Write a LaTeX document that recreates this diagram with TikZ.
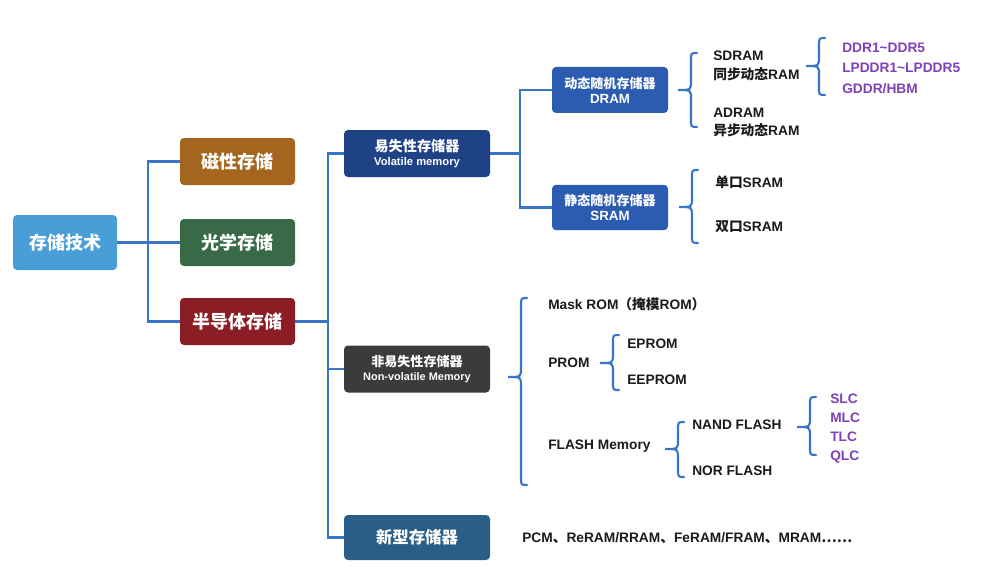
\documentclass[tikz,border=0pt]{standalone}
\usepackage{fontspec}
\setmainfont{Liberation Sans}
\newfontfamily\cjk{Noto Sans CJK SC}
\newcommand{\zh}[1]{{\cjk #1}}
\definecolor{cRoot}{HTML}{4A9ED8}
\definecolor{cMag}{HTML}{A4661F}
\definecolor{cOpt}{HTML}{386A48}
\definecolor{cSemi}{HTML}{8A1E24}
\definecolor{cVol}{HTML}{1F4286}
\definecolor{cNv}{HTML}{3B3B3B}
\definecolor{cNew}{HTML}{2B5E86}
\definecolor{cRam}{HTML}{2C5CB2}
\definecolor{cLine}{HTML}{3A74C9}
\definecolor{cPur}{HTML}{7E3FB8}
\definecolor{cTxt}{HTML}{1A1A1A}
\newcommand{\mybrace}[4]{%
  \draw[bracestyle] ({#1+19},#2) .. controls ({#1+13},#2) .. ({#1+13},{#2+8})
    -- ({#1+13},{#3-9}) .. controls ({#1+13},#3) .. (#1,#3)
    .. controls ({#1+13},#3) .. ({#1+13},{#3+9})
    -- ({#1+13},{#4-8}) .. controls ({#1+13},#4) .. ({#1+19},#4);}
\begin{document}
\begin{tikzpicture}[x=0.75pt,y=-0.75pt,
  box/.style={rounded corners=3pt, text=white, align=center, inner sep=0pt, font=\bfseries},
  conn/.style={draw=cLine, line width=1.6pt},
  bracestyle/.style={draw=cLine, line width=1.6pt, line cap=round},
  leaf/.style={anchor=west, inner sep=0pt, text=cTxt, font=\bfseries\fontsize{10.3}{12}\selectfont},
  leafp/.style={leaf, text=cPur}]
\useasboundingbox (0,0) rectangle (1000,585);
% level 0/1
\node[box, fill=cRoot, minimum width=78pt, minimum height=41.25pt, font=\bfseries\fontsize{13.5}{15}\selectfont] (root) at (65,242.5) {\zh{存储技术}};
\node[box, fill=cMag, minimum width=86.25pt, minimum height=35.25pt, font=\bfseries\fontsize{13.5}{15}\selectfont] (mag) at (237.5,161.5) {\zh{磁性存储}};
\node[box, fill=cOpt, minimum width=86.25pt, minimum height=35.25pt, font=\bfseries\fontsize{13.5}{15}\selectfont] (opt) at (237.5,242.5) {\zh{光学存储}};
\node[box, fill=cSemi, minimum width=86.25pt, minimum height=35.25pt, font=\bfseries\fontsize{13.5}{15}\selectfont] (semi) at (237.5,321.5) {\zh{半导体存储}};
% level 2
\node[box, fill=cVol, minimum width=109.5pt, minimum height=35.25pt] (vol) at (417,153.5)
  {{\fontsize{10.6}{11.5}\selectfont\zh{易失性存储器}}\\[-1pt]{\fontsize{8.4}{10}\selectfont Volatile memory}};
\node[box, fill=cNv, minimum width=109.5pt, minimum height=35.25pt] (nv) at (417,369)
  {{\fontsize{9.8}{11}\selectfont\zh{非易失性存储器}}\\[-1pt]{\fontsize{8.2}{10}\selectfont Non-volatile Memory}};
\node[box, fill=cNew, minimum width=109.5pt, minimum height=33.75pt, font=\bfseries\fontsize{12.3}{14}\selectfont] (new) at (417,537.5) {\zh{新型存储器}};
% level 3
\node[box, fill=cRam, minimum width=87pt, minimum height=34.5pt] (dram) at (610,90)
  {{\fontsize{9.8}{11}\selectfont\zh{动态随机存储器}}\\[-1pt]{\fontsize{10}{11}\selectfont DRAM}};
\node[box, fill=cRam, minimum width=87pt, minimum height=34pt] (sram) at (610,207.5)
  {{\fontsize{9.8}{11}\selectfont\zh{静态随机存储器}}\\[-1pt]{\fontsize{10}{11}\selectfont SRAM}};
% connectors
\coordinate (j1) at (148,242.5);
\coordinate (j2) at (328,321.5);
\coordinate (j3) at (520,153.5);
\draw[conn] (root.east) -- (j1) |- (mag.west);
\draw[conn] (j1) -- (opt.west);
\draw[conn] (j1) |- (semi.west);
\draw[conn] (semi.east) -- (j2) |- (vol.west);
\draw[conn] (j2) |- (nv.west);
\draw[conn] (j2) |- (new.west);
\draw[conn] (vol.east) -- (j3) |- (dram.west);
\draw[conn] (j3) |- (sram.west);
% DRAM leaves
\mybrace{678}{53}{90}{127}
\node[leaf] (sdram) at (713,56) {SDRAM};
\node[leaf] (sdramz) at (713,74) {\zh{同步动态}RAM};
\node[leaf] (adram) at (713,113) {ADRAM};
\node[leaf] (adramz) at (713,130) {\zh{异步动态}RAM};
\mybrace{806}{38}{66}{95}
\node[leafp] (ddr) at (842,48) {DDR1\textasciitilde DDR5};
\node[leafp] (lpddr) at (842,68) {LPDDR1\textasciitilde LPDDR5};
\node[leafp] (gddr) at (842,89) {GDDR/HBM};
% SRAM leaves
\mybrace{679}{170}{207}{243}
\node[leaf] (sp) at (715,182) {\zh{单口}SRAM};
\node[leaf] (dp) at (715,227) {\zh{双口}SRAM};
% Non-volatile leaves
\mybrace{508}{298}{377}{485}
\node[leaf] (mask) at (548,304) {Mask ROM\zh{（掩模}ROM\zh{）}};
\node[leaf] (prom) at (548,363) {PROM};
\mybrace{600}{335}{363}{390}
\node[leaf] (eprom) at (627,344) {EPROM};
\node[leaf] (eeprom) at (627,380) {EEPROM};
\node[leaf] (flash) at (548,446) {FLASH Memory};
\mybrace{665}{422}{449}{477}
\node[leaf] (nand) at (692,425) {NAND FLASH};
\node[leaf] (nor) at (692,471) {NOR FLASH};
\mybrace{797}{397}{427}{455}
\node[leafp] (slc) at (830,399) {SLC};
\node[leafp] (mlc) at (830,418) {MLC};
\node[leafp] (tlc) at (830,437) {TLC};
\node[leafp] (qlc) at (830,457) {QLC};
% new memory
\node[leaf] (pcm) at (522,538) {PCM\zh{、}ReRAM/RRAM\zh{、}FeRAM/FRAM\zh{、}MRAM\zh{……}};
\end{tikzpicture}
\end{document}
